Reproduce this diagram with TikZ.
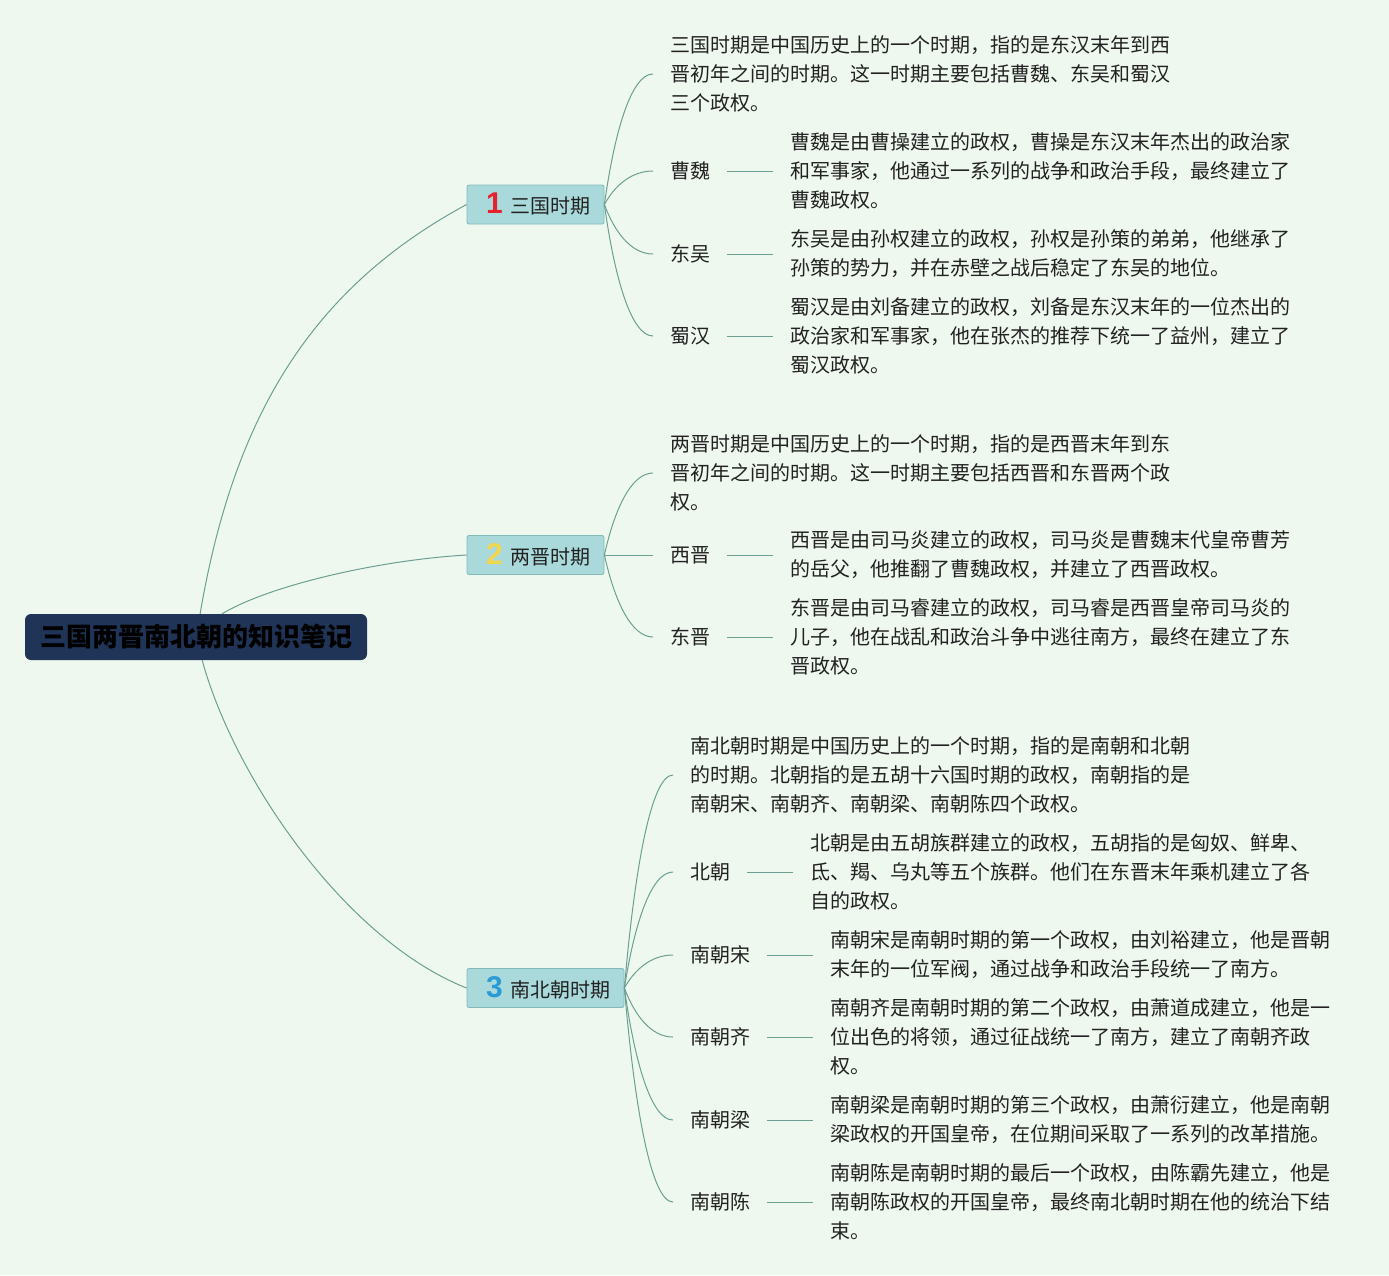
\documentclass[tikz,border=0pt]{standalone}
\usepackage{fontspec}
\setmainfont{Noto Sans CJK SC}
\newfontfamily\numfont{Liberation Sans}
\usetikzlibrary{calc}
\definecolor{bgc}{HTML}{EFF8EF}
\definecolor{linec}{HTML}{6A9F92}
\definecolor{rootc}{HTML}{1F3456}
\definecolor{secfill}{HTML}{A9D9DB}
\definecolor{secdraw}{HTML}{82BAB8}
\definecolor{txtc}{HTML}{222222}
\definecolor{nred}{HTML}{E5222E}
\definecolor{nyel}{HTML}{F2D64B}
\definecolor{nblue}{HTML}{2B9BD8}
\tikzset{
  conn/.style={draw=linec, line width=1pt},
  rootbox/.style={draw=none, fill=rootc, rounded corners=6pt, minimum width=342pt, minimum height=46pt,
    inner sep=0pt, font=\fontsize{26}{30}\selectfont\bfseries, text=black},
  secbox/.style={draw=secdraw, fill=secfill, rounded corners=2pt, line width=0.8pt, minimum height=39pt,
    inner sep=0pt, font=\fontsize{20}{24}\selectfont, text=txtc},
  leaf/.style={anchor=west, inner xsep=17pt, inner ysep=0pt, align=left,
    font=\fontsize{20}{29}\selectfont, text=txtc},
}
\newcommand\twig[2]{\draw[conn] let \p1=(#1), \p2=(#2) in (\p1) .. controls (\x1+10pt, {0.45*\y1+0.55*\y2}) and (\x2-22pt, \y2) .. (\p2);}
\newcommand\numtxt[2]{{\numfont\bfseries\fontsize{30}{30}\selectfont\color{#1}#2}\hspace{8pt}}
\begin{document}
\begin{tikzpicture}[x=1pt,y=-1pt]
\fill[bgc] (0,0) rectangle (1389,1275);
\useasboundingbox (0,0) rectangle (1389,1275);

% root
\node[rootbox] (root) at (196,637) {三国两晋南北朝的知识笔记};

% sections
\node[secbox, minimum width=137pt] (s1) at (535.5,204.5) {\hspace{6pt}\numtxt{nred}{1}三国时期};
\node[secbox, minimum width=137pt] (s2) at (535.5,555) {\hspace{6pt}\numtxt{nyel}{2}两晋时期};
\node[secbox, minimum width=157pt] (s3) at (545.5,988) {\hspace{6pt}\numtxt{nblue}{3}南北朝时期};

% root connectors
\draw[conn] ($(root.north west)!0.512!(root.north east)$) .. controls (234,415) and (312,288) .. (s1.west);
\draw[conn] ($(root.north west)!0.576!(root.north east)$) .. controls (270,585) and (380,560) .. (s2.west);
\draw[conn] ($(root.south west)!0.518!(root.south east)$) .. controls (235,780) and (347,941) .. (s3.west);

% ---------- section 1
\node[leaf] (i1) at (653,74) {三国时期是中国历史上的一个时期，指的是东汉末年到西\\晋初年之间的时期。这一时期主要包括曹魏、东吴和蜀汉\\三个政权。};
\node[leaf] (a1) at (653,171) {曹魏};
\node[leaf] (a2) at (653,254) {东吴};
\node[leaf] (a3) at (653,336) {蜀汉};
\node[leaf] (d1) at (773,171) {曹魏是由曹操建立的政权，曹操是东汉末年杰出的政治家\\和军事家，他通过一系列的战争和政治手段，最终建立了\\曹魏政权。};
\node[leaf] (d2) at (773,254) {东吴是由孙权建立的政权，孙权是孙策的弟弟，他继承了\\孙策的势力，并在赤壁之战后稳定了东吴的地位。};
\node[leaf] (d3) at (773,336) {蜀汉是由刘备建立的政权，刘备是东汉末年的一位杰出的\\政治家和军事家，他在张杰的推荐下统一了益州，建立了\\蜀汉政权。};
\twig{s1.east}{i1.west}
\twig{s1.east}{a1.west}
\twig{s1.east}{a2.west}
\twig{s1.east}{a3.west}
\draw[conn] (a1.east) -- (d1.west);
\draw[conn] (a2.east) -- (d2.west);
\draw[conn] (a3.east) -- (d3.west);

% ---------- section 2
\node[leaf] (i2) at (653,473) {两晋时期是中国历史上的一个时期，指的是西晋末年到东\\晋初年之间的时期。这一时期主要包括西晋和东晋两个政\\权。};
\node[leaf] (b1) at (653,555) {西晋};
\node[leaf] (b2) at (653,637) {东晋};
\node[leaf] (e1) at (773,555) {西晋是由司马炎建立的政权，司马炎是曹魏末代皇帝曹芳\\的岳父，他推翻了曹魏政权，并建立了西晋政权。};
\node[leaf] (e2) at (773,637) {东晋是由司马睿建立的政权，司马睿是西晋皇帝司马炎的\\儿子，他在战乱和政治斗争中逃往南方，最终在建立了东\\晋政权。};
\twig{s2.east}{i2.west}
\twig{s2.east}{b1.west}
\twig{s2.east}{b2.west}
\draw[conn] (b1.east) -- (e1.west);
\draw[conn] (b2.east) -- (e2.west);

% ---------- section 3
\node[leaf] (i3) at (673,775) {南北朝时期是中国历史上的一个时期，指的是南朝和北朝\\的时期。北朝指的是五胡十六国时期的政权，南朝指的是\\南朝宋、南朝齐、南朝梁、南朝陈四个政权。};
\node[leaf] (c1) at (673,872) {北朝};
\node[leaf] (c2) at (673,955) {南朝宋};
\node[leaf] (c3) at (673,1037) {南朝齐};
\node[leaf] (c4) at (673,1120) {南朝梁};
\node[leaf] (c5) at (673,1202) {南朝陈};
\node[leaf] (f1) at (793,872) {北朝是由五胡族群建立的政权，五胡指的是匈奴、鲜卑、\\氐、羯、乌丸等五个族群。他们在东晋末年乘机建立了各\\自的政权。};
\node[leaf] (f2) at (813,955) {南朝宋是南朝时期的第一个政权，由刘裕建立，他是晋朝\\末年的一位军阀，通过战争和政治手段统一了南方。};
\node[leaf] (f3) at (813,1037) {南朝齐是南朝时期的第二个政权，由萧道成建立，他是一\\位出色的将领，通过征战统一了南方，建立了南朝齐政\\权。};
\node[leaf] (f4) at (813,1120) {南朝梁是南朝时期的第三个政权，由萧衍建立，他是南朝\\梁政权的开国皇帝，在位期间采取了一系列的改革措施。};
\node[leaf] (f5) at (813,1202) {南朝陈是南朝时期的最后一个政权，由陈霸先建立，他是\\南朝陈政权的开国皇帝，最终南北朝时期在他的统治下结\\束。};
\twig{s3.east}{i3.west}
\twig{s3.east}{c1.west}
\twig{s3.east}{c2.west}
\twig{s3.east}{c3.west}
\twig{s3.east}{c4.west}
\twig{s3.east}{c5.west}
\draw[conn] (c1.east) -- (f1.west);
\draw[conn] (c2.east) -- (f2.west);
\draw[conn] (c3.east) -- (f3.west);
\draw[conn] (c4.east) -- (f4.west);
\draw[conn] (c5.east) -- (f5.west);
\end{tikzpicture}
\end{document}
